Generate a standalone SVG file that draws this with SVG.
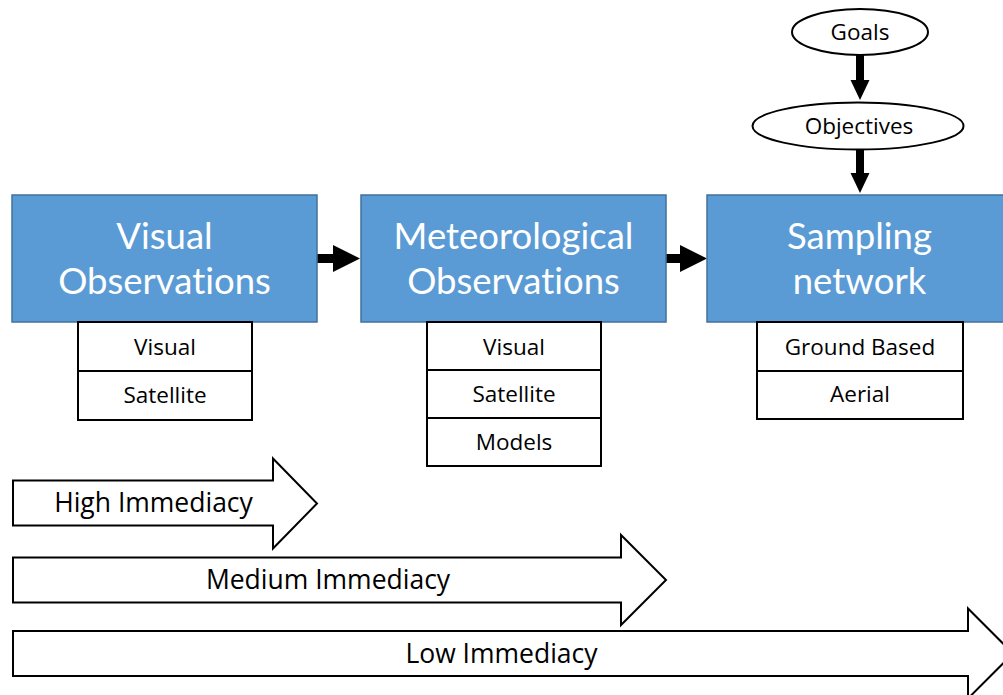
<svg xmlns="http://www.w3.org/2000/svg" width="1003" height="695" viewBox="0 0 1003 695">
<style>
.main{fill:#5B9BD5;stroke:#41719C;stroke-width:1.5}
.sub{fill:#fff;stroke:#000;stroke-width:2}
.big{font-family:Lato,"Open Sans",sans-serif;font-size:36.5px;fill:#fff;text-anchor:middle;font-variant-ligatures:none}
.t{font-family:"Open Sans",Lato,sans-serif;font-size:22.5px;fill:#000;text-anchor:middle}
.ta{font-family:"Open Sans",Lato,sans-serif;font-size:26.5px;fill:#000;text-anchor:middle}
.blk{fill:#fff;stroke:#000;stroke-width:2;stroke-linejoin:miter}
.ell{fill:#fff;stroke:#000;stroke-width:2}
.shaft{stroke:#000;fill:none}
.head{fill:#000;stroke:none}
</style>
<rect width="1003" height="695" fill="#fff"/>
<g id="connectors">
  <line class="shaft" x1="317" y1="258.5" x2="334" y2="258.5" stroke-width="9"/>
  <polygon class="head" points="333,245 360,258.5 333,272"/>
  <line class="shaft" x1="666" y1="258.5" x2="681" y2="258.5" stroke-width="9"/>
  <polygon class="head" points="680,245 707,258.5 680,272"/>
  <line class="shaft" x1="860" y1="55" x2="860" y2="81" stroke-width="8"/>
  <polygon class="head" points="850.5,80 869.5,80 860,100"/>
  <line class="shaft" x1="860" y1="150" x2="860" y2="174" stroke-width="8"/>
  <polygon class="head" points="850.5,173 869.5,173 860,193"/>
</g>
<g id="goals">
  <ellipse class="ell" cx="860" cy="32" rx="68" ry="23"/>
  <text class="t" x="860" y="40">Goals</text>
</g>
<g id="objectives">
  <ellipse class="ell" cx="858" cy="126" rx="105.5" ry="23.5"/>
  <text class="t" x="859" y="134">Objectives</text>
</g>
<g id="visual-observations">
  <rect class="main" x="12" y="195" width="305" height="127"/>
  <text class="big" x="164.5" y="249">Visual</text>
  <text class="big" x="164.5" y="294">Observations</text>
  <rect class="sub" x="78" y="322" width="174" height="49"/>
  <text class="t" x="165" y="355">Visual</text>
  <rect class="sub" x="78" y="371" width="174" height="49"/>
  <text class="t" x="165" y="403">Satellite</text>
</g>
<g id="meteorological-observations">
  <rect class="main" x="361" y="195" width="305" height="127"/>
  <text class="big" x="513.5" y="249">Meteorological</text>
  <text class="big" x="513.5" y="294">Observations</text>
  <rect class="sub" x="427" y="322" width="174" height="48"/>
  <text class="t" x="514" y="355">Visual</text>
  <rect class="sub" x="427" y="370" width="174" height="48"/>
  <text class="t" x="514" y="402">Satellite</text>
  <rect class="sub" x="427" y="418" width="174" height="48"/>
  <text class="t" x="514" y="450">Models</text>
</g>
<g id="sampling-network">
  <rect class="main" x="707" y="195" width="305" height="127"/>
  <text class="big" x="859.5" y="249">Sampling</text>
  <text class="big" x="859.5" y="294">network</text>
  <rect class="sub" x="757" y="322" width="206" height="49"/>
  <text class="t" x="860" y="355">Ground Based</text>
  <rect class="sub" x="757" y="371" width="206" height="48"/>
  <text class="t" x="860" y="402">Aerial</text>
</g>
<g id="high-immediacy">
  <polygon class="blk" points="13,480.5 273,480.5 273,458.5 317,503.5 273,548.5 273,525.5 13,525.5"/>
  <text class="ta" x="153.5" y="512">High Immediacy</text>
</g>
<g id="medium-immediacy">
  <polygon class="blk" points="13,557.5 621,557.5 621,535 666,580 621,625 621,602.5 13,602.5"/>
  <text class="ta" x="328" y="589">Medium Immediacy</text>
</g>
<g id="low-immediacy">
  <polygon class="blk" points="13,631 968,631 968,608.5 1013,653.5 968,698.5 968,676 13,676"/>
  <text class="ta" x="501.5" y="663">Low Immediacy</text>
</g>
</svg>
